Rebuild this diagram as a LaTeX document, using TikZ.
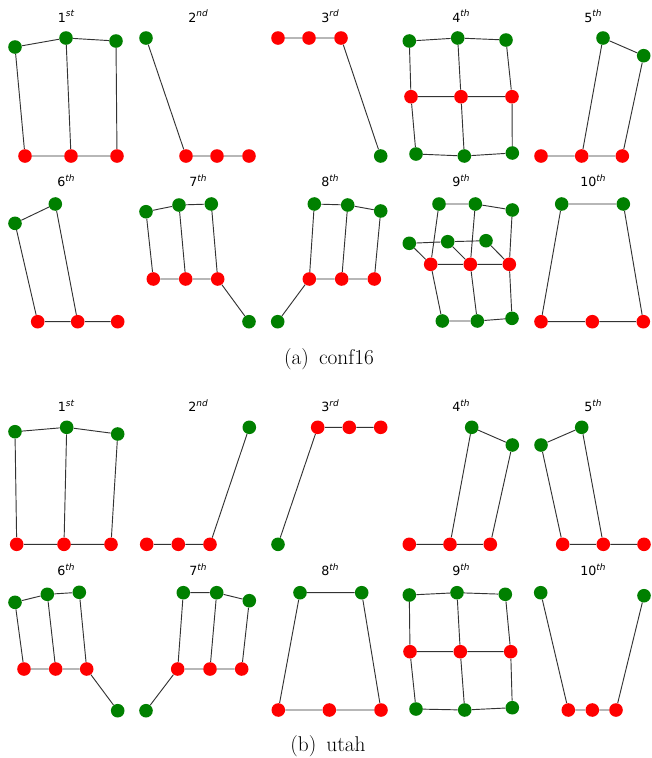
\documentclass[tikz,border=0pt]{standalone}
\usepackage{fontspec}
\setsansfont{DejaVu Sans}
\definecolor{gcol}{RGB}{0,128,0}
\definecolor{rcol}{RGB}{255,0,0}
\tikzset{
  gn/.style={circle,fill=gcol,draw=none,minimum size=10.2pt,inner sep=0pt},
  rn/.style={circle,fill=rcol,draw=none,minimum size=10.2pt,inner sep=0pt},
  ed/.style={draw=black!80,line width=0.7pt},
  ttl/.style={anchor=base,inner sep=0pt,font=\sffamily\fontsize{9.5}{11}\selectfont},
  captext/.style={anchor=base,inner sep=0pt,font=\rmfamily\fontsize{16}{19}\selectfont}
}
\newcommand{\ord}[2]{#1\raisebox{0.42em}{\fontsize{6.7}{7}\selectfont\itshape #2}}
\begin{document}
\begin{tikzpicture}[x=0.75pt,y=-0.75pt]
\useasboundingbox (0,0) rectangle (652,758);
% ---------- titles ----------
\node[ttl] (ta1) at (66,22.3) {\ord{1}{st}};
\node[ttl] (ta2) at (198,22.3) {\ord{2}{nd}};
\node[ttl] (ta3) at (330,22.3) {\ord{3}{rd}};
\node[ttl] (ta4) at (461,22.3) {\ord{4}{th}};
\node[ttl] (ta5) at (593,22.3) {\ord{5}{th}};
\node[ttl] (ta6) at (66,186.7) {\ord{6}{th}};
\node[ttl] (ta7) at (198,186.7) {\ord{7}{th}};
\node[ttl] (ta8) at (330,186.7) {\ord{8}{th}};
\node[ttl] (ta9) at (461,186.7) {\ord{9}{th}};
\node[ttl] (ta10) at (593,186.7) {\ord{10}{th}};
\node[ttl] (tb1) at (66,411.7) {\ord{1}{st}};
\node[ttl] (tb2) at (198,411.7) {\ord{2}{nd}};
\node[ttl] (tb3) at (330,411.7) {\ord{3}{rd}};
\node[ttl] (tb4) at (461,411.7) {\ord{4}{th}};
\node[ttl] (tb5) at (593,411.7) {\ord{5}{th}};
\node[ttl] (tb6) at (66,575.7) {\ord{6}{th}};
\node[ttl] (tb7) at (198,575.7) {\ord{7}{th}};
\node[ttl] (tb8) at (330,575.7) {\ord{8}{th}};
\node[ttl] (tb9) at (461,575.7) {\ord{9}{th}};
\node[ttl] (tb10) at (593,575.7) {\ord{10}{th}};
% captions
\node[captext] (capa) at (329,364) {(a)\hskip 7.5pt conf16};
\node[captext] (capb) at (328,751.7) {(b)\hskip 7.5pt utah};
% ================= (a) =================
% a1
\node[gn] (a1g1) at (15,47) {};
\node[gn] (a1g2) at (66,38) {};
\node[gn] (a1g3) at (116,41) {};
\node[rn] (a1r1) at (25,156) {};
\node[rn] (a1r2) at (71,156) {};
\node[rn] (a1r3) at (117,156) {};
\draw[ed] (a1g1)--(a1g2) (a1g2)--(a1g3) (a1g1)--(a1r1) (a1g2)--(a1r2) (a1g3)--(a1r3) (a1r1)--(a1r2) (a1r2)--(a1r3);
% a2
\node[gn] (a2g1) at (146,38) {};
\node[rn] (a2r1) at (186,156) {};
\node[rn] (a2r2) at (217,156) {};
\node[rn] (a2r3) at (249,156) {};
\draw[ed] (a2g1)--(a2r1) (a2r1)--(a2r2) (a2r2)--(a2r3);
% a3
\node[rn] (a3r1) at (278,38) {};
\node[rn] (a3r2) at (309,38) {};
\node[rn] (a3r3) at (341,38) {};
\node[gn] (a3g1) at (380.7,156) {};
\draw[ed] (a3r1)--(a3r2) (a3r2)--(a3r3) (a3r3)--(a3g1);
% a4
\node[gn] (a4t1) at (409.3,41) {};
\node[gn] (a4t2) at (457.7,38) {};
\node[gn] (a4t3) at (506,40) {};
\node[rn] (a4m1) at (411,96.7) {};
\node[rn] (a4m2) at (461,96.7) {};
\node[rn] (a4m3) at (512,96.7) {};
\node[gn] (a4b1) at (416,154) {};
\node[gn] (a4b2) at (464.3,156) {};
\node[gn] (a4b3) at (512.3,153) {};
\draw[ed] (a4t1)--(a4t2) (a4t2)--(a4t3) (a4m1)--(a4m2) (a4m2)--(a4m3) (a4b1)--(a4b2) (a4b2)--(a4b3)
  (a4t1)--(a4m1) (a4t2)--(a4m2) (a4t3)--(a4m3) (a4m1)--(a4b1) (a4m2)--(a4b2) (a4m3)--(a4b3);
% a5
\node[gn] (a5g1) at (603,38) {};
\node[gn] (a5g2) at (643.7,55.7) {};
\node[rn] (a5r1) at (541,156) {};
\node[rn] (a5r2) at (581.7,156) {};
\node[rn] (a5r3) at (622.3,156) {};
\draw[ed] (a5g1)--(a5g2) (a5g1)--(a5r2) (a5g2)--(a5r3) (a5r1)--(a5r2) (a5r2)--(a5r3);
% a6
\node[gn] (a6g1) at (15,223.3) {};
\node[gn] (a6g2) at (55.3,204) {};
\node[rn] (a6r1) at (37.7,321.7) {};
\node[rn] (a6r2) at (77.7,321.7) {};
\node[rn] (a6r3) at (117.7,321.7) {};
\draw[ed] (a6g1)--(a6g2) (a6g1)--(a6r1) (a6g2)--(a6r2) (a6r1)--(a6r2) (a6r2)--(a6r3);
% a7
\node[gn] (a7g1) at (146,211.7) {};
\node[gn] (a7g2) at (179,205) {};
\node[gn] (a7g3) at (211.3,204) {};
\node[rn] (a7r1) at (153.3,279) {};
\node[rn] (a7r2) at (185.7,279) {};
\node[rn] (a7r3) at (217.7,279) {};
\node[gn] (a7g4) at (249,321.7) {};
\draw[ed] (a7g1)--(a7g2) (a7g2)--(a7g3) (a7g1)--(a7r1) (a7g2)--(a7r2) (a7g3)--(a7r3) (a7r1)--(a7r2) (a7r2)--(a7r3) (a7r3)--(a7g4);
% a8
\node[gn] (a8gb) at (277.7,321.7) {};
\node[rn] (a8r1) at (309.3,279) {};
\node[rn] (a8r2) at (341.7,279) {};
\node[rn] (a8r3) at (374.3,279) {};
\node[gn] (a8t1) at (314.3,204) {};
\node[gn] (a8t2) at (347.7,205) {};
\node[gn] (a8t3) at (380.7,211) {};
\draw[ed] (a8gb)--(a8r1) (a8r1)--(a8r2) (a8r2)--(a8r3) (a8r1)--(a8t1) (a8r2)--(a8t2) (a8r3)--(a8t3) (a8t1)--(a8t2) (a8t2)--(a8t3);
% a9
\node[gn] (a9t1) at (439,204) {};
\node[gn] (a9t2) at (475.3,204) {};
\node[gn] (a9t3) at (512.3,210) {};
\node[gn] (a9s1) at (409.3,243.3) {};
\node[gn] (a9s2) at (447.7,241.7) {};
\node[gn] (a9s3) at (486,240.7) {};
\node[rn] (a9m1) at (430.7,264.3) {};
\node[rn] (a9m2) at (470.3,264.3) {};
\node[rn] (a9m3) at (509.3,264.3) {};
\node[gn] (a9b1) at (442.3,321) {};
\node[gn] (a9b2) at (477.3,321) {};
\node[gn] (a9b3) at (512,318.3) {};
\draw[ed] (a9t1)--(a9t2) (a9t2)--(a9t3) (a9s1)--(a9s2) (a9s2)--(a9s3) (a9m1)--(a9m2) (a9m2)--(a9m3)
  (a9b1)--(a9b2) (a9b2)--(a9b3) (a9t1)--(a9m1) (a9t2)--(a9m2) (a9t3)--(a9m3)
  (a9s1)--(a9m1) (a9s2)--(a9m2) (a9s3)--(a9m3) (a9m1)--(a9b1) (a9m2)--(a9b2) (a9m3)--(a9b3);
% a10
\node[gn] (a10g1) at (561.7,204) {};
\node[gn] (a10g2) at (623.3,204) {};
\node[rn] (a10r1) at (541,321.7) {};
\node[rn] (a10r2) at (592.3,321.7) {};
\node[rn] (a10r3) at (643.3,321.7) {};
\draw[ed] (a10g1)--(a10g2) (a10g1)--(a10r1) (a10g2)--(a10r3) (a10r1)--(a10r2) (a10r2)--(a10r3);
% ================= (b) =================
% b1
\node[gn] (b1g1) at (15,431.7) {};
\node[gn] (b1g2) at (66.7,427.3) {};
\node[gn] (b1g3) at (117.7,434) {};
\node[rn] (b1r1) at (16.7,544.3) {};
\node[rn] (b1r2) at (64,544.3) {};
\node[rn] (b1r3) at (111,544.3) {};
\draw[ed] (b1g1)--(b1g2) (b1g2)--(b1g3) (b1g1)--(b1r1) (b1g2)--(b1r2) (b1g3)--(b1r3) (b1r1)--(b1r2) (b1r2)--(b1r3);
% b2
\node[rn] (b2r1) at (146.7,544.3) {};
\node[rn] (b2r2) at (178.3,544.3) {};
\node[rn] (b2r3) at (210,544.3) {};
\node[gn] (b2g1) at (249.3,427.3) {};
\draw[ed] (b2r1)--(b2r2) (b2r2)--(b2r3) (b2r3)--(b2g1);
% b3
\node[gn] (b3g1) at (278,544.3) {};
\node[rn] (b3r1) at (317.7,427.3) {};
\node[rn] (b3r2) at (349.3,427.3) {};
\node[rn] (b3r3) at (380.7,427.3) {};
\draw[ed] (b3g1)--(b3r1) (b3r1)--(b3r2) (b3r2)--(b3r3);
% b4
\node[gn] (b4g1) at (471.7,427.3) {};
\node[gn] (b4g2) at (512.3,445) {};
\node[rn] (b4r1) at (409.3,544.3) {};
\node[rn] (b4r2) at (450,544.3) {};
\node[rn] (b4r3) at (490.3,544.3) {};
\draw[ed] (b4g1)--(b4g2) (b4g1)--(b4r2) (b4g2)--(b4r3) (b4r1)--(b4r2) (b4r2)--(b4r3);
% b5
\node[gn] (b5g1) at (541,445) {};
\node[gn] (b5g2) at (581.7,427.3) {};
\node[rn] (b5r1) at (562.7,544.3) {};
\node[rn] (b5r2) at (603.3,544.3) {};
\node[rn] (b5r3) at (644,544.3) {};
\draw[ed] (b5g1)--(b5g2) (b5g1)--(b5r1) (b5g2)--(b5r2) (b5r1)--(b5r2) (b5r2)--(b5r3);
% b6
\node[gn] (b6g1) at (15,602.3) {};
\node[gn] (b6g2) at (47.3,594.3) {};
\node[gn] (b6g3) at (79.3,592.3) {};
\node[rn] (b6r1) at (24,669) {};
\node[rn] (b6r2) at (55.7,669) {};
\node[rn] (b6r3) at (86.7,669) {};
\node[gn] (b6g4) at (117.7,710.7) {};
\draw[ed] (b6g1)--(b6g2) (b6g2)--(b6g3) (b6g1)--(b6r1) (b6g2)--(b6r2) (b6g3)--(b6r3) (b6r1)--(b6r2) (b6r2)--(b6r3) (b6r3)--(b6g4);
% b7
\node[gn] (b7gb) at (146,710.7) {};
\node[rn] (b7r1) at (177.7,669) {};
\node[rn] (b7r2) at (210,669) {};
\node[rn] (b7r3) at (241.7,669) {};
\node[gn] (b7g1) at (183.3,592.7) {};
\node[gn] (b7g2) at (216.7,592.7) {};
\node[gn] (b7g3) at (249.3,600.7) {};
\draw[ed] (b7gb)--(b7r1) (b7r1)--(b7r2) (b7r2)--(b7r3) (b7r1)--(b7g1) (b7r2)--(b7g2) (b7r3)--(b7g3) (b7g1)--(b7g2) (b7g2)--(b7g3);
% b8
\node[gn] (b8g1) at (300,592.7) {};
\node[gn] (b8g2) at (361.7,592.7) {};
\node[rn] (b8r1) at (278.3,710) {};
\node[rn] (b8r2) at (329.3,710) {};
\node[rn] (b8r3) at (381,710) {};
\draw[ed] (b8g1)--(b8g2) (b8g1)--(b8r1) (b8g2)--(b8r3) (b8r1)--(b8r2) (b8r2)--(b8r3);
% b9
\node[gn] (b9t1) at (409.3,595) {};
\node[gn] (b9t2) at (457,592.7) {};
\node[gn] (b9t3) at (505.3,594.3) {};
\node[rn] (b9m1) at (410,651.7) {};
\node[rn] (b9m2) at (460.3,651.7) {};
\node[rn] (b9m3) at (510.7,651.7) {};
\node[gn] (b9b1) at (416,709) {};
\node[gn] (b9b2) at (464.7,710) {};
\node[gn] (b9b3) at (512.3,707.7) {};
\draw[ed] (b9t1)--(b9t2) (b9t2)--(b9t3) (b9m1)--(b9m2) (b9m2)--(b9m3) (b9b1)--(b9b2) (b9b2)--(b9b3)
  (b9t1)--(b9m1) (b9t2)--(b9m2) (b9t3)--(b9m3) (b9m1)--(b9b1) (b9m2)--(b9b2) (b9m3)--(b9b3);
% b10
\node[gn] (b10g1) at (540.7,592.7) {};
\node[gn] (b10g2) at (644,595.7) {};
\node[rn] (b10r1) at (568.3,710) {};
\node[rn] (b10r2) at (592.3,710) {};
\node[rn] (b10r3) at (616,710) {};
\draw[ed] (b10g1)--(b10r1) (b10g2)--(b10r3) (b10r1)--(b10r2) (b10r2)--(b10r3);
\end{tikzpicture}
\end{document}
